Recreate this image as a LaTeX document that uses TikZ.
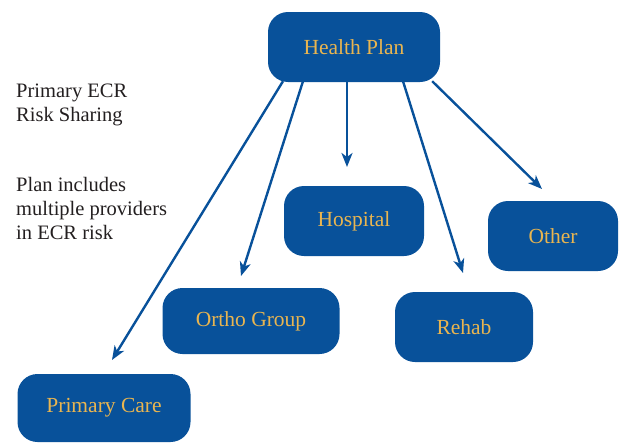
\documentclass[tikz,border=0pt]{standalone}
\usepackage{fontspec}
\setmainfont{Liberation Serif}
\usepackage{tikz}
\usetikzlibrary{arrows.meta,positioning}
\definecolor{planblue}{HTML}{08519A}
\definecolor{plangold}{HTML}{E9B550}
\definecolor{notegrey}{HTML}{231F20}
\tikzset{
    %Define standard arrow tip
    >={Stealth[length=14pt,width=11pt,inset=4pt]},
    %Define style for boxes
    unit/.style={
           rectangle,
           rounded corners=20pt,
           draw=none,
           fill=planblue,
           text=plangold,
           minimum height=70pt,
           font=\fontsize{21.5}{25}\selectfont,
           text centered},
    note/.style={
           anchor=north west,
           align=left,
           inner sep=0pt,
           text=notegrey,
           font=\fontsize{20.5}{24}\selectfont},
    % Define arrow style
    pil/.style={
           ->,
           draw=planblue,
           line width=2.4pt}
}
\begin{document}
\begin{tikzpicture}[x=1pt,y=-1pt]
\useasboundingbox (0,0) rectangle (621,442);
 %nodes
\node[unit, minimum width=172pt](plan) at (354,47){Health Plan};
\node[unit, minimum width=140pt](hosp) at (354,221){Hospital};
\node[unit, minimum width=130pt](other) at (553,236){Other};
\node[unit, minimum width=177pt, minimum height=66pt](ortho) at (251,321){Ortho Group};
\node[unit, minimum width=138pt](rehab) at (464,327){Rehab};
\node[unit, minimum width=173pt, minimum height=68pt](care) at (104,408){Primary Care};

\node[note](risk) at (16,84){Primary ECR\\Risk Sharing};
\node[note](incl) at (16,177){Plan includes\\multiple providers\\in ECR risk};

 %arrow ends
\coordinate (tcare) at (112,360);
\coordinate (tortho) at (241,276);
\coordinate (thosp) at (347,167);
\coordinate (trehab) at (463,273);
\coordinate (tother) at (542,189);

\draw[pil] (plan.south west -| 283,0) ++(0,-1) -- (tcare);
\draw[pil] (plan.south west -| 303,0) ++(0,-1) -- (tortho);
\draw[pil] (plan.south west -| 347,0) ++(0,-1) -- (thosp);
\draw[pil] (plan.south west -| 403,0) ++(0,-1) -- (trehab);
\draw[pil] (plan.south east) ++(-8,-1) -- (tother);
\end{tikzpicture}
\end{document}
